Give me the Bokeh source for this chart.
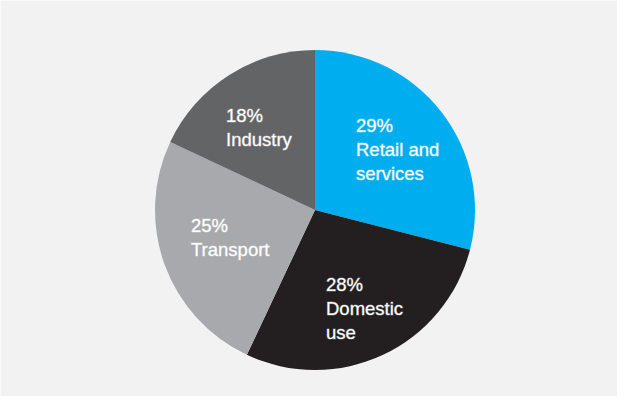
import math
from bokeh.plotting import figure
from bokeh.models import ColumnDataSource
from bokeh.core.properties import value
from bokeh.embed import file_html
from bokeh.resources import INLINE

# ---- data ----
categories = ["Retail and\nservices", "Domestic\nuse", "Transport", "Industry"]
shares = [29, 28, 25, 18]
colors = ["#00aeef", "#231f20", "#a7a9ac", "#636466"]

# ---- layout (px offsets of each label's first baseline from pie centre) ----
label_dx = [41, 11, -124, -89]
label_dy = [85, -74, -15, 95]

W, H = 617, 396
cx, cy, R = 314.5, 186.5, 160

p = figure(width=W, height=H, x_range=(0, W), y_range=(0, H),
           x_axis_type=None, y_axis_type=None, toolbar_location=None,
           output_backend="svg", min_border=0)
p.background_fill_color = "#f2f2f2"
p.border_fill_color = "#f2f2f2"
p.outline_line_color = None
p.grid.visible = False

total = sum(shares)
starts, ends = [], []
cum = 0.0
for s in shares:
    a0 = math.pi / 2 - cum / total * 2 * math.pi
    a1 = a0 - s / total * 2 * math.pi
    starts.append(a0)
    ends.append(a1)
    cum += s

src = ColumnDataSource(dict(x=[cx] * len(shares), y=[cy] * len(shares),
                            start=starts, end=ends, color=colors))
p.wedge(x="x", y="y", radius=R, start_angle="start", end_angle="end",
        direction="clock", fill_color="color", line_color=None, source=src)

tx, ty, tt = [], [], []
for cat, s, dx, dy in zip(categories, shares, label_dx, label_dy):
    lines = [f"{s}%"] + cat.split("\n")
    for i, ln in enumerate(lines):
        tx.append(cx + dx)
        ty.append(cy + dy - i * 24)
        tt.append(ln)

p.text(x=tx, y=ty, text=tt, text_align="left", text_baseline="alphabetic",
       text_font=value("Liberation Sans"), text_font_size="18.5px",
       text_color="white", text_outline_color=(255, 255, 255, 0.35))

open("out.html", "w").write(file_html(p, INLINE))
